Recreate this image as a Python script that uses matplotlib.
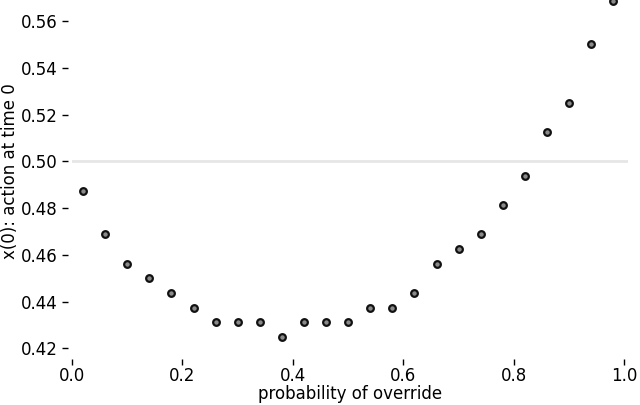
"""x(0) vs probability of override scatter"""

import matplotlib
matplotlib.use('Agg')
import matplotlib.pyplot as plt

# probability of override (x) and action at time 0 (y)
p_override = [0.02, 0.06, 0.10, 0.14, 0.18, 0.22, 0.26, 0.30, 0.34, 0.38,
              0.42, 0.46, 0.50, 0.54, 0.58, 0.62, 0.66, 0.70, 0.74, 0.78,
              0.82, 0.86, 0.90, 0.94, 0.98]
action_t0 = [0.4875, 0.46875, 0.45625, 0.45, 0.44375, 0.4375, 0.43125, 0.43125,
             0.43125, 0.425, 0.43125, 0.43125, 0.43125, 0.4375, 0.4375, 0.44375,
             0.45625, 0.4625, 0.46875, 0.48125, 0.49375, 0.5125, 0.525, 0.55,
             0.56875]
ref_level = 0.5


def main():
    fig = plt.figure(figsize=(6.4, 4.05), dpi=100)
    ax = fig.add_axes([0.1125, 0.128, 0.869, 0.872])

    ax.axhline(ref_level, color='#e6e6e6', lw=2, zorder=1)
    ax.plot(p_override, action_t0, 'o', ms=4.8, mfc='#8a8a8a', mec='#111111',
            mew=1.6, zorder=3, clip_on=False)

    ax.set_xlim(0, 1.007)
    ax.set_ylim(0.418, 0.569)
    ax.set_xticks([0.0, 0.2, 0.4, 0.6, 0.8, 1.0])
    ax.set_yticks([0.42, 0.44, 0.46, 0.48, 0.50, 0.52, 0.54, 0.56])

    for side in ['top', 'right', 'left', 'bottom']:
        ax.spines[side].set_visible(False)
    ax.spines['left'].set_position(('outward', 3))
    ax.spines['bottom'].set_position(('outward', 4))
    ax.tick_params(axis='both', length=4.5, width=1, labelsize=12)
    ax.tick_params(axis='x', pad=1.5)
    ax.tick_params(axis='y', pad=2.5)

    ax.set_xlabel('probability of override', fontsize=12, va='center')
    ax.set_ylabel('x(0): action at time 0', fontsize=12, va='center')
    # label positions in axes coords (from the reference layout)
    ax.xaxis.set_label_coords(0.5, -0.117)
    ax.yaxis.set_label_coords(-0.112, 0.515)

    fig.savefig('out.png', dpi=100)


if __name__ == "__main__":
    main()
